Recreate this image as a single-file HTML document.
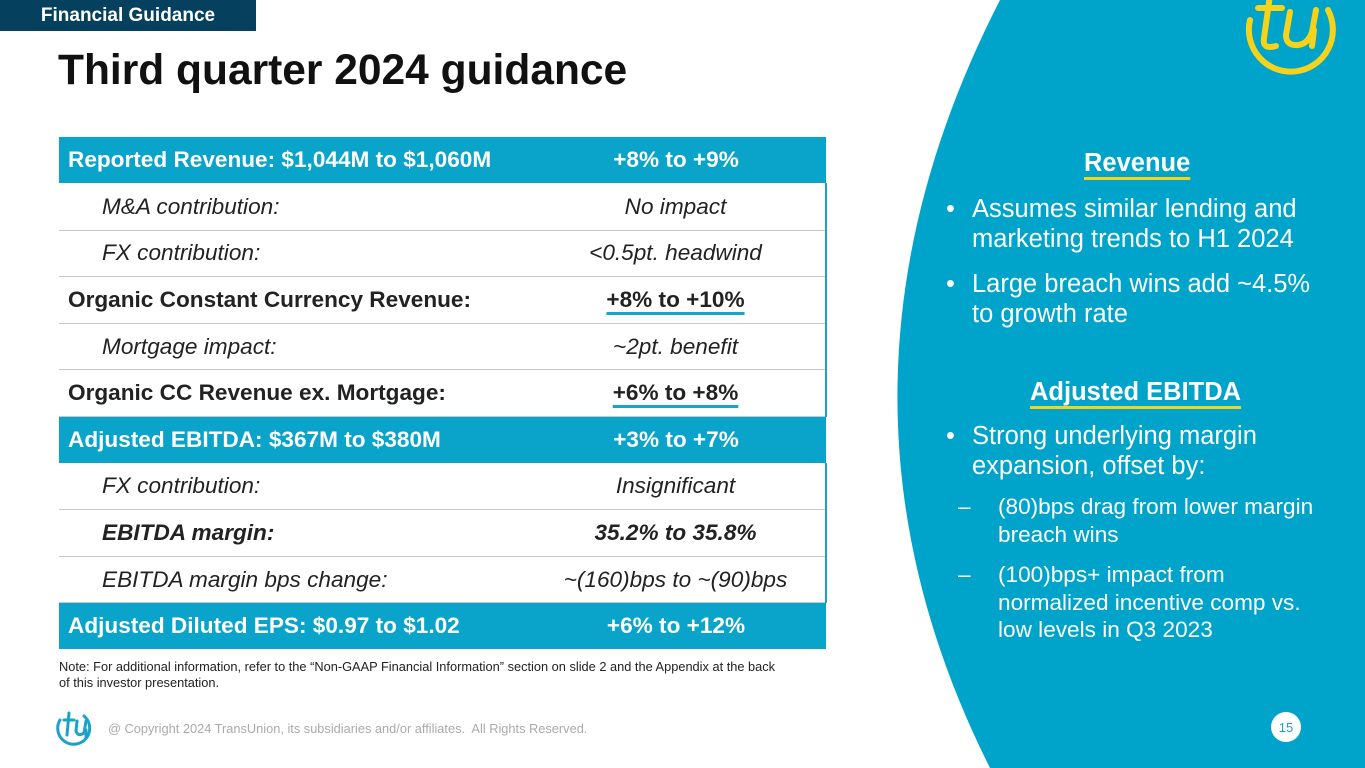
<!DOCTYPE html>
<html><head><meta charset="utf-8"><style>
*{margin:0;padding:0;box-sizing:border-box}
body{width:1365px;height:768px;overflow:hidden;background:#fff;font-family:"Liberation Sans",Arial,sans-serif;position:relative}
.abs{position:absolute;white-space:nowrap}
table{border-collapse:collapse;position:absolute;left:59px;top:137px;width:768px}
td{height:46.6px;font-size:22.6px;color:#222;border-bottom:1.5px solid #c8c8c8;vertical-align:middle;white-space:nowrap}
td.c2{text-align:center;width:300px;border-right:2px solid #1aa3c8}
td.c1{padding-left:9px}
tr.h td{background:#0aa3c9;color:#fff;font-weight:bold;border-bottom:1.5px solid #fff;border-right:none}
td.i{font-style:italic;padding-left:43px}
td.ic{font-style:italic}
tr.b td{font-weight:bold}
.ul{text-decoration:underline;text-decoration-color:#1aa3c8;text-decoration-thickness:3px;text-underline-offset:5px}
.rt{color:#fff;font-size:25.5px;line-height:30px}
.sm{color:#fff;font-size:22.6px;line-height:27.5px}
</style></head><body>
<svg class="abs" style="left:0;top:0" width="1365" height="768">
<path d="M1000,0 Q800,390 990,768 L1365,768 L1365,0 Z" fill="#00a3c9"/>
<g fill="none" stroke="#f5d21b" stroke-width="6" stroke-linecap="round">
<path d="M1250,20 A42,42 0 1 0 1328,10"/>
<path d="M1258,8 L1282,8 M1270,-5 L1264,38 Q1262,50 1276,46 M1290,12 L1286,35 Q1286,46 1298,45 Q1308,44 1312,32 L1316,10 M1314,30 L1312,46"/>
</g>
<circle cx="1286" cy="727" r="15" fill="#fff"/>
<text x="1286" y="732" font-size="13" fill="#1aa3c8" text-anchor="middle" font-family="Liberation Sans">15</text>
<g fill="none" stroke="#1aa3c8" stroke-width="3" stroke-linecap="round">
<path d="M60,720 A16,16 0 1 0 84,716"/>
<path d="M64,720 L74,720 M69,713 L67,735 M77,721 L76,731 Q78,737 84,733 L86,721 M86,730 L86,737"/>
</g>
</svg>
<div class="abs" style="left:0;top:0;width:256px;height:31px;background:#05405f;color:#fff;font-weight:bold;font-size:19px;text-align:center;line-height:31px">Financial Guidance</div>
<div class="abs" style="left:58px;top:47px;font-size:42.5px;font-weight:bold;color:#111">Third quarter 2024 guidance</div>
<table>
<tr class="h"><td class="c1">Reported Revenue: $1,044M to $1,060M</td><td class="c2">+8% to +9%</td></tr>
<tr><td class="i">M&amp;A contribution:</td><td class="c2 ic">No impact</td></tr>
<tr><td class="i">FX contribution:</td><td class="c2 ic">&lt;0.5pt. headwind</td></tr>
<tr class="b"><td class="c1">Organic Constant Currency Revenue:</td><td class="c2"><span class="ul">+8% to +10%</span></td></tr>
<tr><td class="i">Mortgage impact:</td><td class="c2 ic">~2pt. benefit</td></tr>
<tr class="b"><td class="c1">Organic CC Revenue ex. Mortgage:</td><td class="c2"><span class="ul">+6% to +8%</span></td></tr>
<tr class="h"><td class="c1">Adjusted EBITDA: $367M to $380M</td><td class="c2">+3% to +7%</td></tr>
<tr><td class="i">FX contribution:</td><td class="c2 ic">Insignificant</td></tr>
<tr class="b"><td class="i">EBITDA margin:</td><td class="c2 ic">35.2% to 35.8%</td></tr>
<tr><td class="i">EBITDA margin bps change:</td><td class="c2 ic">~(160)bps to ~(90)bps</td></tr>
<tr class="h"><td class="c1">Adjusted Diluted EPS: $0.97 to $1.02</td><td class="c2">+6% to +12%</td></tr>
</table>
<div class="abs" style="left:59px;top:659px;font-size:12.8px;line-height:16px;color:#222">Note: For additional information, refer to the “Non-GAAP Financial Information” section on slide 2 and the Appendix at the back<br>of this investor presentation.</div>
<div class="abs" style="left:108px;top:721px;font-size:12.8px;color:#aaa">@ Copyright 2024 TransUnion, its subsidiaries and/or affiliates.&nbsp; All Rights Reserved.</div>
<div class="abs rt" style="left:1084px;top:148px;font-weight:bold;text-decoration:underline;text-decoration-color:#f5d21b;text-decoration-thickness:3px;text-underline-offset:6px">Revenue</div>
<div class="abs rt" style="left:946px;top:194px">•</div>
<div class="abs rt" style="left:972px;top:194px">Assumes similar lending and<br>marketing trends to H1 2024</div>
<div class="abs rt" style="left:946px;top:269px">•</div>
<div class="abs rt" style="left:972px;top:269px">Large breach wins add ~4.5%<br>to growth rate</div>
<div class="abs rt" style="left:1030px;top:377px;font-weight:bold;text-decoration:underline;text-decoration-color:#f5d21b;text-decoration-thickness:3px;text-underline-offset:6px">Adjusted EBITDA</div>
<div class="abs rt" style="left:946px;top:421px">•</div>
<div class="abs rt" style="left:972px;top:421px">Strong underlying margin<br>expansion, offset by:</div>
<div class="abs sm" style="left:958px;top:493px">–</div>
<div class="abs sm" style="left:998px;top:493px">(80)bps drag from lower margin<br>breach wins</div>
<div class="abs sm" style="left:958px;top:561px">–</div>
<div class="abs sm" style="left:998px;top:561px">(100)bps+ impact from<br>normalized incentive comp vs.<br>low levels in Q3 2023</div>
</body></html>
